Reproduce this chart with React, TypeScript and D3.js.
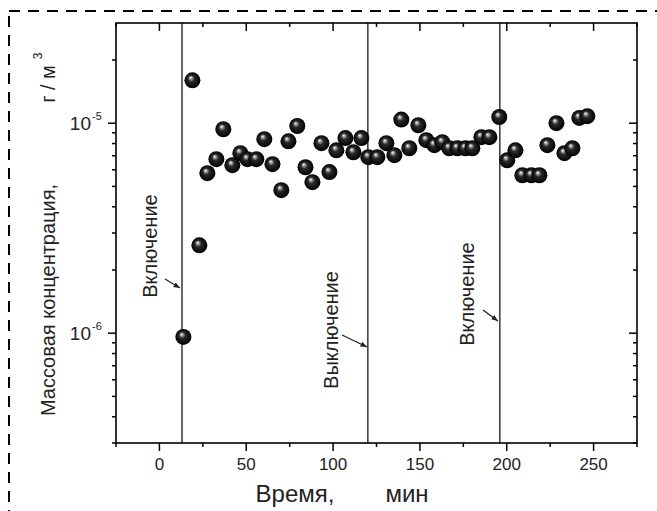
import React from "react";
import * as d3 from "d3";

const times = [13.8, 19.0, 23.0, 27.6, 32.8, 36.8, 42.0, 46.6, 50.7, 55.8, 60.4, 65.1, 70.2, 74.3, 79.4, 84.1, 88.1, 93.3, 97.9, 101.9, 107.1, 111.7, 116.3, 120.3, 125.5, 130.7, 135.3, 139.3, 143.9, 149.1, 153.7, 158.3, 162.9, 166.9, 171.6, 176.2, 180.2, 185.4, 190.0, 195.7, 200.3, 205.0, 209.0, 214.2, 218.8, 223.4, 228.6, 233.2, 237.8, 241.8, 246.4];
const concentrations = [9.6e-7, 1.6e-5, 2.62e-6, 5.78e-6, 6.74e-6, 9.36e-6, 6.31e-6, 7.2e-6, 6.74e-6, 6.74e-6, 8.39e-6, 6.38e-6, 4.8e-6, 8.2e-6, 9.7e-6, 6.17e-6, 5.24e-6, 8.03e-6, 5.85e-6, 7.43e-6, 8.49e-6, 7.27e-6, 8.49e-6, 6.89e-6, 6.89e-6, 8.03e-6, 7.04e-6, 1.04e-5, 7.6e-6, 9.78e-6, 8.3e-6, 7.86e-6, 8.12e-6, 7.6e-6, 7.6e-6, 7.6e-6, 7.6e-6, 8.58e-6, 8.58e-6, 1.07e-5, 6.66e-6, 7.43e-6, 5.65e-6, 5.65e-6, 5.65e-6, 7.86e-6, 1.0e-5, 7.2e-6, 7.6e-6, 1.06e-5, 1.08e-5];

const xMajorTicks = [0, 50, 100, 150, 200, 250];
const xMinorTicks = [-25, 25, 75, 125, 175, 225, 275];
const yMajorTicks = [1e-6, 1e-5];
const yMajorExp = ["-6", "-5"];

const eventTimes = [13, 120, 196];
const eventLabels = ["Включение", "Выключение", "Включение"];

const W = 657, H = 511;
const L = 116, R = 637, T = 23, B = 443;

export default function App() {
  const x = d3.scaleLinear().domain([-25, 275]).range([L, R]);
  const y = d3.scaleLog().domain([3e-7, 3e-5]).range([B, T]);

  const yMinor: number[] = [];
  for (let e = -7; e <= -5; e++) {
    for (let m = 2; m <= 9; m++) {
      const v = m * Math.pow(10, e);
      if (v >= 3e-7 && v <= 3e-5) yMinor.push(v);
    }
  }
  const font = "Arial, 'Liberation Sans', sans-serif";
  const labelPos = [
    { tx: 157, ty: 246, ax1: 165, ay1: 279, ax2: 180, ay2: 288 },
    { tx: 338, ty: 330, ax1: 342, ay1: 335, ax2: 367, ay2: 347 },
    { tx: 474, ty: 294, ax1: 483, ay1: 310, ax2: 498, ay2: 321 },
  ];

  return (
    <svg width={W} height={H} style={{ position: "absolute", left: 0, top: 0, background: "#fff" }} fontFamily={font}>
      <defs>
        <radialGradient id="sph" cx="0.5" cy="0.5" r="0.5" fx="0.38" fy="0.32">
          <stop offset="0%" stopColor="#ffffff" />
          <stop offset="12%" stopColor="#bbbbbb" />
          <stop offset="40%" stopColor="#2a2a2a" />
          <stop offset="100%" stopColor="#000000" />
        </radialGradient>
        <marker id="ah" viewBox="0 0 10 10" refX="10" refY="5" markerWidth="5" markerHeight="5" orient="auto">
          <path d="M0,1 L10,5 L0,9 z" fill="#222" />
        </marker>
      </defs>
      <rect x={0} y={0} width={W} height={H} fill="#fff" />
      <rect x={9} y={11} width={700} height={600} fill="none" stroke="#000" strokeWidth={2} strokeDasharray="11,8" />

      {eventTimes.map((t, i) => (
        <line key={"ev" + i} x1={x(t)} x2={x(t)} y1={T} y2={B} stroke="#444" strokeWidth={1.6} />
      ))}

      <rect x={L} y={T} width={R - L} height={B - T} fill="none" stroke="#000" strokeWidth={1.6} />

      {xMajorTicks.map((t) => (
        <g key={"xm" + t}>
          <line x1={x(t)} x2={x(t)} y1={B} y2={B + 8} stroke="#000" strokeWidth={1.5} />
          <line x1={x(t)} x2={x(t)} y1={T} y2={T + 8} stroke="#000" strokeWidth={1.5} />
          <text x={x(t)} y={470} fontSize={17} textAnchor="middle" fill="#222">{t}</text>
        </g>
      ))}
      {xMinorTicks.map((t) => (
        <g key={"xn" + t}>
          <line x1={x(t)} x2={x(t)} y1={B} y2={B + 4} stroke="#000" strokeWidth={1.5} />
          <line x1={x(t)} x2={x(t)} y1={T} y2={T + 4} stroke="#000" strokeWidth={1.5} />
        </g>
      ))}

      {yMajorTicks.map((v, i) => (
        <g key={"ym" + i}>
          <line x1={L - 8} x2={L} y1={y(v)} y2={y(v)} stroke="#000" strokeWidth={1.5} />
          <line x1={R - 8} x2={R} y1={y(v)} y2={y(v)} stroke="#000" strokeWidth={1.5} />
          <text x={91} y={y(v) + 7} fontSize={19} textAnchor="end" fill="#222">10</text>
          <text x={92} y={y(v) - 3} fontSize={11} textAnchor="start" fill="#222">{yMajorExp[i]}</text>
        </g>
      ))}
      {yMinor.map((v, i) => (
        <g key={"yn" + i}>
          <line x1={L - 4} x2={L} y1={y(v)} y2={y(v)} stroke="#000" strokeWidth={1.5} />
          <line x1={R - 4} x2={R} y1={y(v)} y2={y(v)} stroke="#000" strokeWidth={1.5} />
        </g>
      ))}

      {eventLabels.map((s, i) => {
        const p = labelPos[i];
        return (
          <g key={"lab" + i}>
            <text transform={`translate(${p.tx},${p.ty}) rotate(-90)`} fontSize={20} textAnchor="middle" fill="#222">{s}</text>
            <line x1={p.ax1} y1={p.ay1} x2={p.ax2} y2={p.ay2} stroke="#222" strokeWidth={1.3} markerEnd="url(#ah)" />
          </g>
        );
      })}

      {times.map((t, i) => (
        <circle key={"p" + i} cx={x(t)} cy={y(concentrations[i])} r={8} fill="url(#sph)" />
      ))}

      <text x={295} y={502} fontSize={24} textAnchor="middle" fill="#222">Время,</text>
      <text x={407} y={502} fontSize={24} textAnchor="middle" fill="#222">мин</text>
      <text transform="translate(55,300) rotate(-90)" fontSize={20} textAnchor="middle" fill="#222">Массовая концентрация,</text>
      <text transform="translate(55,84) rotate(-90)" fontSize={20} textAnchor="middle" fill="#222">г / м</text>
      <text transform="translate(42,56) rotate(-90)" fontSize={12} textAnchor="middle" fill="#222">3</text>
    </svg>
  );
}
